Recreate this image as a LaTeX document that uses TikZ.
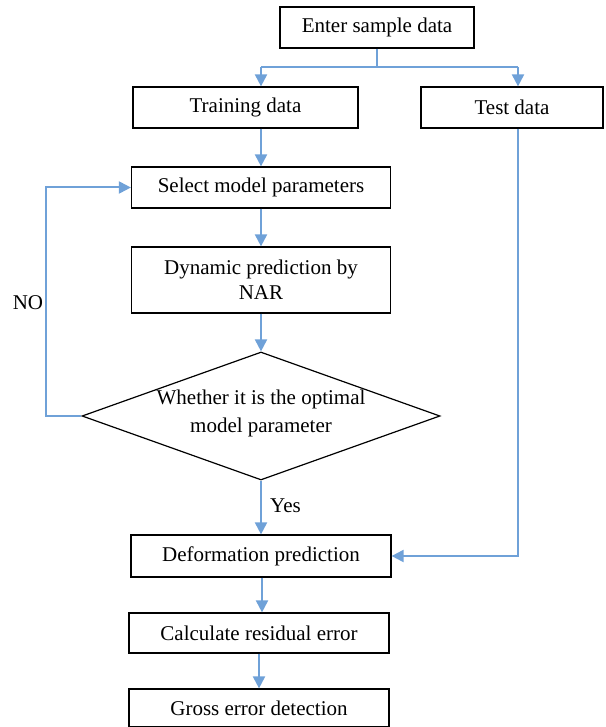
\documentclass[tikz,border=0pt]{standalone}
\usepackage{fontspec}
\setmainfont{Liberation Serif}
\usetikzlibrary{arrows.meta,shapes.geometric}
\definecolor{flowblue}{RGB}{111,161,216}
\begin{document}
\begin{tikzpicture}[x=1pt,y=1pt,
  font=\fontsize{21}{25}\selectfont,
  box/.style={draw=black,line width=1.2pt,inner sep=0pt,align=center},
  dia/.style={draw=black,line width=1.2pt,shape=diamond,inner sep=0pt,aspect=2.8,minimum width=358pt,minimum height=128pt},
  conn/.style={draw=flowblue,line width=2pt},
  arr/.style={conn,-{Triangle[width=12pt,length=12pt]}},
  lbl/.style={inner sep=0pt}]
\useasboundingbox (0,0) rectangle (605,-727);
\node[box,minimum width=194pt,minimum height=41pt] (enter) at (377,-27.5) {Enter sample data};
\node[box,minimum width=225pt,minimum height=41pt] (train) at (245.5,-107.5) {Training data};
\node[box,minimum width=182pt,minimum height=41pt] (test) at (512,-107.5) {Test data};
\node[box,minimum width=259pt,minimum height=41pt] (select) at (261,-187.5) {Select model parameters};
\node[box,minimum width=259pt,minimum height=66pt] (dyn) at (261,-280) {Dynamic prediction by\\NAR};
\node[dia] (dec) at (261,-416) {};
\node[lbl,align=center,font=\fontsize{21}{28}\selectfont] (dectext) at (261,-413) {Whether it is the optimal\\model parameter};
\node[box,minimum width=260pt,minimum height=42pt] (deform) at (261,-556) {Deformation prediction};
\node[box,minimum width=260pt,minimum height=40pt] (calc) at (259,-633) {Calculate residual error};
\node[box,minimum width=260pt,minimum height=38pt] (gross) at (259,-708) {Gross error detection};
\node[lbl] (no) at (28,-303) {NO};
\node[lbl,anchor=west] (yes) at (270,-506) {Yes};
\coordinate (split) at (377,-67);
\coordinate (tl) at (261,-67);
\coordinate (tr) at (518,-67);
\coordinate (loop) at (46,-416);
\draw[conn] (enter.south) -- (split);
\draw[conn] (tl) -- (tr);
\draw[arr] (tl) -- (tl |- train.north);
\draw[arr] (tr) -- (tr |- test.north);
\draw[arr] (select.north |- train.south) -- (select.north);
\draw[arr] (select.south) -- (dyn.north);
\draw[arr] (dyn.south) -- (dec.north);
\draw[arr] (dec.west) -- (loop) -- (loop |- select.west) -- (select.west);
\draw[arr] (dec.south) -- (deform.north);
\draw[arr] (tr |- test.south) -- (tr |- deform.east) -- (deform.east);
\draw[arr] (deform.south -| 262,0) -- (calc.north -| 262,0);
\draw[arr] (calc.south) -- (gross.north);
\end{tikzpicture}
\end{document}
